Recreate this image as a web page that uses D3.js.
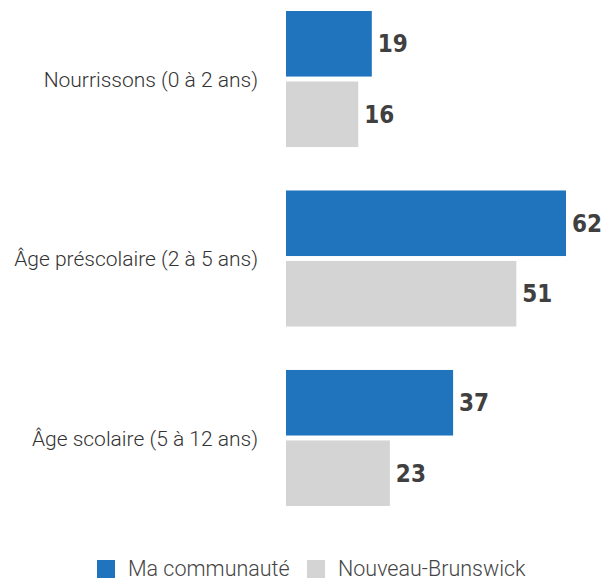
<!DOCTYPE html>
<html>
<head>
<meta charset="utf-8">
<script src="https://cdn.jsdelivr.net/npm/d3@7"></script>
<style>
  body { margin: 0; background: #fff; }
  svg { display: block; }
</style>
</head>
<body>
<div id="chart"></div>
<script>
// données du graphique
const categories = ["Nourrissons (0 à 2 ans)", "Âge préscolaire (2 à 5 ans)", "Âge scolaire (5 à 12 ans)"]
const seriesNames = ["Ma communauté", "Nouveau-Brunswick"]
const maCommunaute = [19, 62, 37]
const nouveauBrunswick = [16, 51, 23]

const width = 605, height = 579
const colors = ["#1f74bd", "#d4d4d4"]

const svg = d3.select("#chart").append("svg")
  .attr("width", width).attr("height", height)

// échelles
const x = d3.scaleLinear().domain([0, 62]).range([286, 566])
const y0 = d3.scaleBand().domain(categories).range([11, 506]).paddingInner(0.242).paddingOuter(0)
const y1 = d3.scaleBand().domain(seriesNames).range([0, y0.bandwidth()]).paddingInner(0.07)

const rows = categories.map((c, i) => ({
  cat: c,
  values: [maCommunaute[i], nouveauBrunswick[i]]
}))

const groups = svg.append("g").selectAll("g")
  .data(rows).enter().append("g")
  .attr("transform", d => `translate(0,${y0(d.cat)})`)

groups.selectAll("rect")
  .data(d => d.values.map((v, j) => ({ v, s: seriesNames[j], j })))
  .enter().append("rect")
  .attr("x", x(0))
  .attr("y", d => y1(d.s))
  .attr("width", d => x(d.v) - x(0))
  .attr("height", y1.bandwidth())
  .attr("fill", d => colors[d.j])

// valeurs
groups.selectAll("text.val")
  .data(d => d.values.map((v, j) => ({ v, s: seriesNames[j], j })))
  .enter().append("text")
  .attr("class", "val")
  .attr("x", d => x(d.v) + 6)
  .attr("y", d => y1(d.s) + y1.bandwidth() / 2)
  .attr("dy", "0.36em")
  .style("font-family", "'DejaVu Sans Condensed', 'DejaVu Sans', sans-serif")
  .style("font-weight", "bold")
  .style("font-size", "24px")
  .style("fill", "#404040")
  .text(d => d.v)

// libellés des catégories
groups.append("text")
  .attr("x", 258)
  .attr("y", y0.bandwidth() / 2)
  .attr("dy", "0.36em")
  .attr("text-anchor", "end")
  .style("font-family", "Roboto, sans-serif")
  .style("font-weight", 300)
  .style("font-size", "21px")
  .style("fill", "#333")
  .text(d => d.cat)

// légende
const legendX = [97, 307]
const legend = svg.append("g").selectAll("g")
  .data(seriesNames).enter().append("g")
  .attr("transform", (d, i) => `translate(${legendX[i]},560)`)
legend.append("rect")
  .attr("width", 18).attr("height", 18)
  .attr("fill", (d, i) => colors[i])
legend.append("text")
  .attr("x", 31).attr("y", 15.5)
  .style("font-family", "Roboto, sans-serif")
  .style("font-weight", 300)
  .style("font-size", "21.5px")
  .style("fill", "#444")
  .text(d => d)
</script>
</body>
</html>
